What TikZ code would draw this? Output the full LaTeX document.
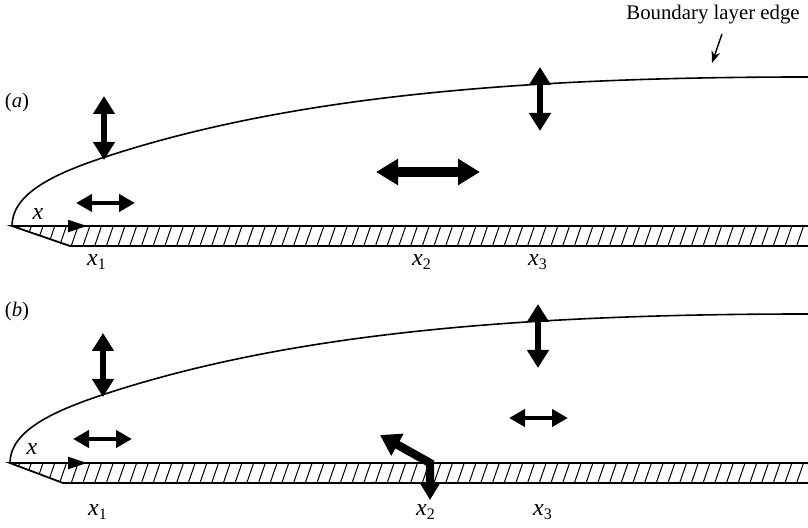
\documentclass[tikz,border=0pt]{standalone}
\usepackage{fontspec}
\setmainfont{Liberation Serif}
\usetikzlibrary{arrows.meta,calc}

\begin{document}
\begin{tikzpicture}[
    x=0.5pt, y=-0.5pt, font=\fontsize{10.4}{12}\selectfont,
    bledge/.style={line width=0.8pt},
    plate/.style={line width=0.9pt},
    hatch/.style={line width=0.5pt},
    dbl/.style={line width=3.4pt, {Triangle[length=9pt,width=10.5pt]}-{Triangle[length=9pt,width=10.5pt]}},
    dblsmall/.style={line width=2.4pt, {Triangle[length=8pt,width=8.5pt]}-{Triangle[length=8pt,width=8.5pt]}},
    dblbig/.style={line width=5pt, {Triangle[length=11pt,width=12.5pt]}-{Triangle[length=11pt,width=12.5pt]}},
    bent/.style={line width=4.2pt, miter limit=4, {Triangle[length=10pt,width=12pt]}-{Triangle[length=8pt,width=9pt]}},
    flow/.style={line width=0.9pt, -{Triangle[length=9.5pt,width=6pt]}},
    pointer/.style={line width=0.7pt, -{Stealth[length=6pt,width=4.5pt]}},
    xlab/.style={font=\fontsize{12}{14}\selectfont, inner sep=0pt}]
  \useasboundingbox (0,0) rectangle (808,528);

  % plate and boundary layer edge, same in both panels
  \foreach \dy/\le/\bx in {0/12/70, 237/10/63} {
    \begin{scope}[shift={(0,\dy)}]
      \begin{scope}
        \clip (\le,226) -- (808,226) -- (808,246) -- (\bx,246) -- cycle;
        \foreach \i in {0,...,70} \draw[hatch] (\i*11.7,249) -- ++(9,-26);
      \end{scope}
      \draw[plate] (808,226) -- (\le,226) -- (\bx,246) -- (808,246);
      \draw[bledge] (\le,226) .. controls (\le,195) and (50,175) .. (105,157)
        .. controls (285,98) and (508,77) .. (808,77);
      \draw[flow] (\le,226) -- (87,226);
    \end{scope}
  }

  % (a)
  \node (pa) at (17,103) {(\textit{a})};
  \node[xlab] (xa) at (38,214) {\textit{x}};
  \node[xlab] (x1a) at (97,262) {\textit{x}\textsubscript{1}};
  \node[xlab] (x2a) at (422,262) {\textit{x}\textsubscript{2}};
  \node[xlab] (x3a) at (538,262) {\textit{x}\textsubscript{3}};
  \draw[dbl] (104,96) -- (104,160);
  \draw[dblsmall] (76,203) -- (135,203);
  \draw[dblbig] (376,172) -- (480,172);
  \draw[dbl] (540,67) -- (540,131);

  \node[inner sep=0pt] (lbl) at (713,15) {Boundary layer edge};
  \coordinate (edgept) at (712,63);
  \draw[pointer] ($(lbl.south)+(9,9)$) -- (edgept);

  % (b)
  \node (pb) at (17,312) {(\textit{b})};
  \node[xlab] (xb) at (32,449) {\textit{x}};
  \node[xlab] (x1b) at (98,512) {\textit{x}\textsubscript{1}};
  \node[xlab] (x2b) at (426,512) {\textit{x}\textsubscript{2}};
  \node[xlab] (x3b) at (543,512) {\textit{x}\textsubscript{3}};
  \draw[dbl] (103,333) -- (103,397);
  \draw[dblsmall] (73,439) -- (132,439);
  \draw[dbl] (538,304) -- (538,368);
  \draw[dblsmall] (509,418) -- (568,418);
  \draw[bent] (380,435) -- (430,463) -- (430,500);
\end{tikzpicture}
\end{document}
